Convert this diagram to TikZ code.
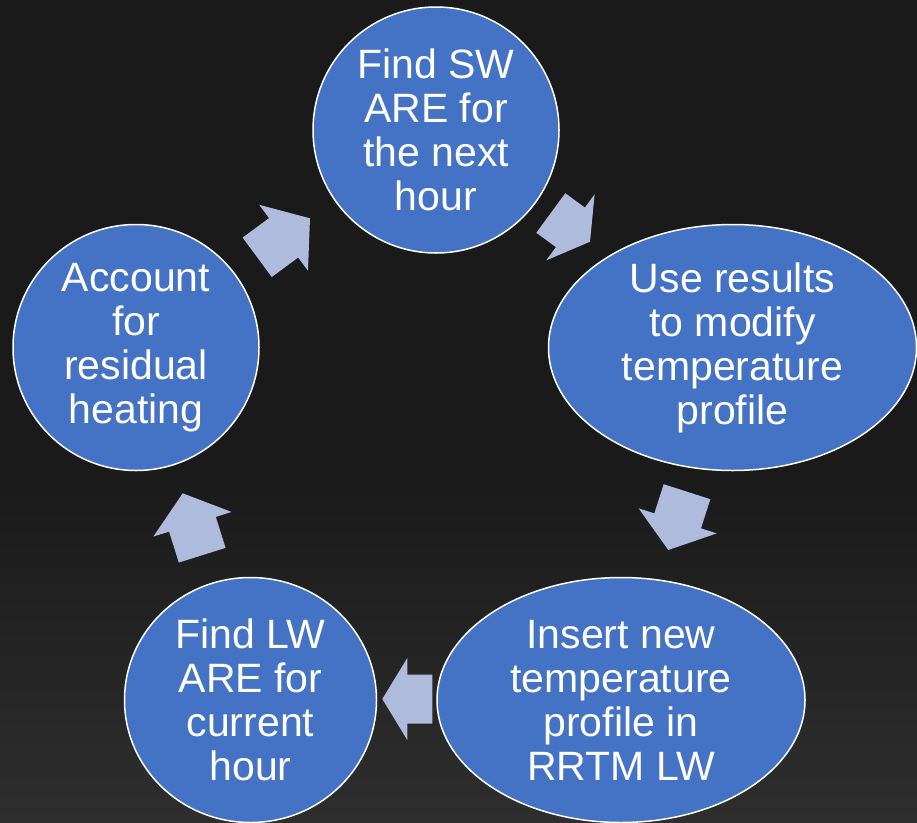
\documentclass[tikz,border=0pt]{standalone}
\usepackage{fontspec}
\setmainfont{Liberation Sans}
\usetikzlibrary{shapes.geometric,calc}
\definecolor{nodeblue}{HTML}{4472C4}
\definecolor{arrowblue}{HTML}{AFBBDD}
\definecolor{bgdark}{HTML}{1A1A1A}
\definecolor{bglight}{HTML}{2E2E2E}
\tikzset{
  stage/.style={shape=ellipse, fill=nodeblue, draw=white, line width=1.5pt,
    inner sep=0pt, align=center, text=white,
    font=\fontsize{41}{44}\selectfont},
  arrowfill/.style={fill=arrowblue}
}
\newcommand\blockarrow[2]{%
  \coordinate (#1-mid) at ($(#1)!0.5!(#2)$);
  \fill[arrowfill] ($(#1)!24.5pt!90:(#2)$) -- ($(#1-mid)!24.5pt!90:(#2)$)
    -- ($(#1-mid)!41pt!90:(#2)$) -- (#2) -- ($(#1-mid)!41pt!-90:(#2)$)
    -- ($(#1-mid)!24.5pt!-90:(#2)$) -- ($(#1)!24.5pt!-90:(#2)$) -- cycle;}
\begin{document}
\begin{tikzpicture}[x=1pt,y=-1pt]
\useasboundingbox (0,0) rectangle (917,822);
\fill[bgdark] (0,0) rectangle (917,822);
\shade[top color=bgdark, bottom color=bglight] (0,470) rectangle (917,822);

% arrows
\coordinate (a1s) at (550.8,213);   \coordinate (a1e) at (590,241.7);
\coordinate (a2s) at (687,491.7);   \coordinate (a2e) at (668.3,550);
\coordinate (a3s) at (432.3,699);   \coordinate (a3e) at (382.3,699);
\coordinate (a4s) at (202.2,555.2); \coordinate (a4e) at (182.7,493.3);
\coordinate (a5s) at (257.2,257.3); \coordinate (a5e) at (310,218.3);
\blockarrow{a1s}{a1e}
\blockarrow{a2s}{a2e}
\blockarrow{a3s}{a3e}
\blockarrow{a4s}{a4e}
\blockarrow{a5s}{a5e}

% stages
\node[stage, minimum width=246pt, minimum height=246pt] (sw) at (436,130)
  {Find SW\\ARE for\\the next\\hour};
\node[stage, minimum width=368pt, minimum height=246pt] (use) at (732.5,347.5)
  {Use results\\to modify\\temperature\\profile};
\node[stage, minimum width=368pt, minimum height=245pt] (ins) at (621,700)
  {Insert new\\temperature\\profile in\\RRTM LW};
\node[stage, minimum width=252pt, minimum height=245pt] (lw) at (250.5,700)
  {Find LW\\ARE for\\current\\hour};
\node[stage, minimum width=246pt, minimum height=246pt] (acc) at (136,347.5)
  {Account\\for\\residual\\heating};
\end{tikzpicture}
\end{document}
